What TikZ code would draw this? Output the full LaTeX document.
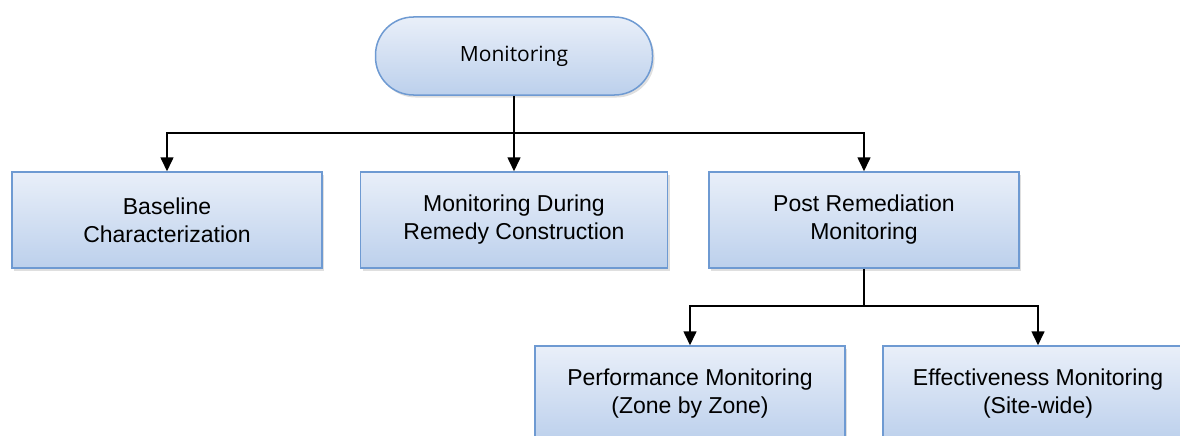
\documentclass[tikz,border=0pt]{standalone}
\usepackage{fontspec}
\setmainfont{Liberation Sans}
\newfontfamily\topfont{Open Sans}
\usetikzlibrary{arrows.meta,shadows}
\definecolor{boxtop}{HTML}{E9EFF9}
\definecolor{boxbot}{HTML}{BCD0EC}
\definecolor{boxline}{HTML}{6E9AD2}
\tikzset{
  box/.style={draw=boxline, line width=1.5pt, top color=boxtop, bottom color=boxbot,
    minimum width=310pt, minimum height=96pt, inner sep=0pt, align=center,
    font=\fontsize{23}{28}\selectfont,
    drop shadow={opacity=0.25, shadow xshift=2pt, shadow yshift=-2.5pt}},
  pill/.style={box, minimum width=277pt, minimum height=78pt, rounded corners=38pt,
    font=\topfont\fontsize{21}{25}\selectfont},
  link/.style={line width=1.6pt, black},
  conn/.style={link, -{Triangle[length=14pt,width=13pt]}}
}
\begin{document}
\begin{tikzpicture}[x=1pt,y=-1pt]
\useasboundingbox (0,0) rectangle (1180,436);
\clip (0,0) rectangle (1180,436);
\node[pill] (mon) at (514,56) {Monitoring};
\node[box] (base) at (167,220) {Baseline\\Characterization};
\node[box, minimum width=307pt] (mid) at (514,220) {Monitoring During\\Remedy Construction};
\node[box] (post) at (864,220) {Post Remediation\\Monitoring};
\node[box] (perf) at (690,394) {Performance Monitoring\\(Zone by Zone)};
\node[box] (eff) at (1038,394) {Effectiveness Monitoring\\(Site-wide)};
\coordinate (j1) at (mon.south |- 0,133);
\coordinate (j2) at (post.south |- 0,306);
\draw[link] (mon.south) -- (j1);
\draw[conn] (j1) -| (base.north);
\draw[conn] (j1) -- (mid.north);
\draw[conn] (j1) -| (post.north);
\draw[link] (post.south) -- (j2);
\draw[conn] (j2) -| (perf.north);
\draw[conn] (j2) -| (eff.north);
\end{tikzpicture}
\end{document}
